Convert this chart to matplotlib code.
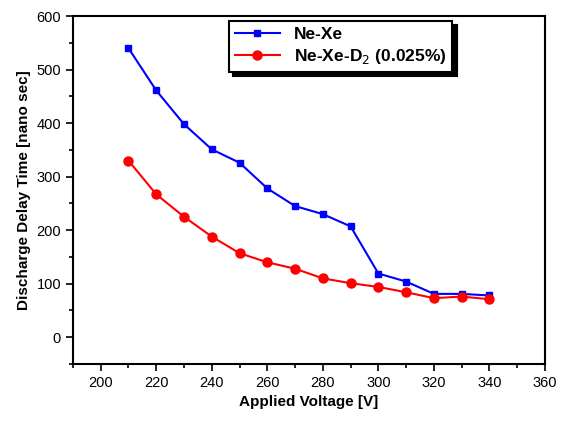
import matplotlib.pyplot as plt
from matplotlib.ticker import MultipleLocator
import numpy as np

plt.rcParams['font.family'] = ['Liberation Sans', 'DejaVu Sans']

voltage = [210, 220, 230, 240, 250, 260, 270, 280, 290, 300, 310, 320, 330, 340]
ne_xe = [540, 461, 398, 351, 326, 278, 245, 230, 207, 119, 104, 81, 81, 78]
ne_xe_d2 = [330, 267, 225, 188, 157, 140, 128, 110, 101, 94, 84, 73, 76, 71]

fig = plt.figure(figsize=(5.61, 4.22), dpi=100)
ax = fig.add_axes([0.130, 0.1374, 0.8415, 0.8246])

ax.plot(voltage, ne_xe, color="blue", marker="s", markersize=5,
        markerfacecolor="blue", markeredgecolor="blue", linewidth=1.5,
        label="Ne-Xe")
ax.plot(voltage, ne_xe_d2, color="red", marker="o", markersize=6.5,
        linewidth=1.5, label="Ne-Xe-D$_2$ (0.025%)")

ax.set_xlim(190, 360)
ax.set_ylim(-50, 600)
ax.xaxis.set_major_locator(MultipleLocator(20))
ax.xaxis.set_minor_locator(MultipleLocator(10))
ax.yaxis.set_major_locator(MultipleLocator(100))
ax.yaxis.set_minor_locator(MultipleLocator(50))
ax.tick_params(which="major", direction="out", length=5, width=1.2, labelsize=10.5)
ax.tick_params(which="minor", direction="out", length=3, width=1.2)
for s in ax.spines.values():
    s.set_linewidth(1.5)

ax.set_xlabel("Applied Voltage [V]", fontsize=11, fontweight="bold")
ax.set_ylabel("Discharge Delay Time [nano sec]", fontsize=11, fontweight="bold")

leg = ax.legend(loc="upper left", bbox_to_anchor=(0.33, 0.985), fancybox=False,
                shadow={"color": "black", "alpha": 1, "ox": 3, "oy": -3},
                edgecolor="black",
                prop={"weight": "bold", "size": 12.5}, borderaxespad=0,
                handlelength=2.6, labelspacing=0.25, borderpad=0.35)
leg.get_frame().set_linewidth(1.5)

fig.savefig("out.png", dpi=100)
